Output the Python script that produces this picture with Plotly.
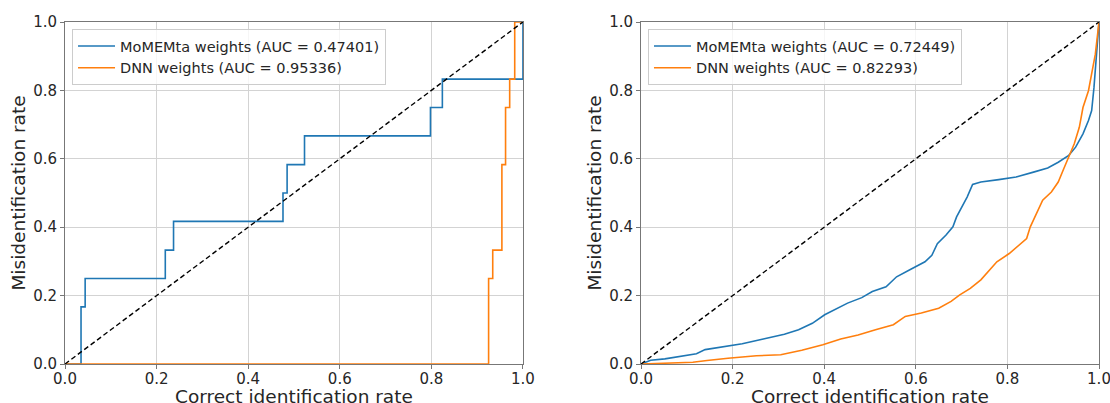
import plotly.graph_objects as go

# ---------------- data ----------------
# Left panel: step ROC curves
left_momemta_x = [0.0, 0.035, 0.044, 0.219, 0.237, 0.476, 0.485, 0.523, 0.798, 0.824, 1.0]
left_momemta_y = [0.0, 0.167, 0.250, 0.333, 0.417, 0.500, 0.583, 0.667, 0.750, 0.833, 1.0]
left_dnn_x = [0.0, 0.925, 0.934, 0.954, 0.962, 0.971, 0.982, 1.0]
left_dnn_y = [0.0, 0.250, 0.333, 0.583, 0.750, 0.833, 1.000, 1.0]

# Right panel: ROC curves
right_momemta_x = [0.0, 0.021, 0.052, 0.083, 0.121, 0.140, 0.183, 0.221, 0.267, 0.313, 0.344,
                   0.374, 0.401, 0.428, 0.451, 0.482, 0.505, 0.535, 0.558, 0.589, 0.620, 0.635,
                   0.647, 0.666, 0.681, 0.689, 0.701, 0.712, 0.724, 0.742, 0.781, 0.819, 0.857,
                   0.888, 0.911, 0.934, 0.949, 0.965, 0.977, 0.984, 0.989, 0.995, 1.0]
right_momemta_y = [0.0, 0.011, 0.015, 0.022, 0.030, 0.042, 0.050, 0.059, 0.073, 0.087, 0.100,
                   0.119, 0.144, 0.163, 0.178, 0.194, 0.212, 0.226, 0.255, 0.277, 0.299, 0.318,
                   0.352, 0.377, 0.401, 0.430, 0.459, 0.488, 0.525, 0.532, 0.539, 0.547, 0.561,
                   0.573, 0.590, 0.610, 0.634, 0.673, 0.712, 0.741, 0.808, 0.925, 1.0]
right_dnn_x = [0.0, 0.052, 0.113, 0.144, 0.190, 0.252, 0.305, 0.351, 0.397, 0.436, 0.474,
               0.512, 0.551, 0.577, 0.612, 0.650, 0.677, 0.696, 0.719, 0.742, 0.758, 0.777,
               0.804, 0.827, 0.842, 0.850, 0.862, 0.877, 0.896, 0.911, 0.923, 0.934, 0.946,
               0.957, 0.965, 0.977, 0.984, 0.992, 1.0]
right_dnn_y = [0.0, 0.003, 0.005, 0.010, 0.017, 0.024, 0.027, 0.040, 0.056, 0.073, 0.085,
               0.100, 0.115, 0.139, 0.149, 0.163, 0.183, 0.202, 0.221, 0.246, 0.270, 0.299,
               0.323, 0.348, 0.367, 0.401, 0.435, 0.479, 0.503, 0.532, 0.571, 0.605, 0.644,
               0.692, 0.750, 0.799, 0.847, 0.906, 1.0]

diag = [0.0, 1.0]
left_names = ["MoMEMta weights (AUC = 0.47401)", "DNN weights (AUC = 0.95336)"]
right_names = ["MoMEMta weights (AUC = 0.72449)", "DNN weights (AUC = 0.82293)"]
x_title = "Correct identification rate"
y_title = "Misidentification rate"

BLUE = "#1f77b4"
ORANGE = "#ff7f0e"
FONT = "DejaVu Sans"
TXT = "#262626"

LEFT_DOM = [0, 0.4429]
RIGHT_DOM = [0.5571, 1]

fig = go.Figure()

# left panel
fig.add_trace(go.Scatter(x=left_momemta_x, y=left_momemta_y, mode="lines", line_shape="hv",
                         line=dict(color=BLUE, width=1.6), name=left_names[0], legend="legend",
                         xaxis="x", yaxis="y"))
fig.add_trace(go.Scatter(x=left_dnn_x, y=left_dnn_y, mode="lines", line_shape="hv",
                         line=dict(color=ORANGE, width=1.6), name=left_names[1], legend="legend",
                         xaxis="x", yaxis="y"))
fig.add_trace(go.Scatter(x=diag, y=diag, mode="lines", line=dict(color="black", width=1.4, dash="5px,3px"),
                         showlegend=False, xaxis="x", yaxis="y"))

# right panel
fig.add_trace(go.Scatter(x=right_momemta_x, y=right_momemta_y, mode="lines",
                         line=dict(color=BLUE, width=1.6), name=right_names[0], legend="legend2",
                         xaxis="x2", yaxis="y2"))
fig.add_trace(go.Scatter(x=right_dnn_x, y=right_dnn_y, mode="lines",
                         line=dict(color=ORANGE, width=1.6), name=right_names[1], legend="legend2",
                         xaxis="x2", yaxis="y2"))
fig.add_trace(go.Scatter(x=diag, y=diag, mode="lines", line=dict(color="black", width=1.4, dash="5px,3px"),
                         showlegend=False, xaxis="x2", yaxis="y2"))

axis_common = dict(range=[0, 1], dtick=0.2, tick0=0, tickformat=".1f", showgrid=True,
                   gridcolor="#d3d3d3", gridwidth=1, zeroline=False, showline=True,
                   linecolor="#777777", linewidth=1, mirror=True, ticks="outside",
                   ticklen=4, tickcolor="#777777", automargin=False,
                   ticklabeloverflow="allow",
                   tickfont=dict(family=FONT, size=15, color=TXT))

title_font = dict(family=FONT, size=18.5, color=TXT)

legend_common = dict(xanchor="left", yanchor="top",
                     bgcolor="rgba(255,255,255,0.8)", bordercolor="#cccccc", borderwidth=1,
                     font=dict(family=FONT, size=14.5, color=TXT), tracegroupgap=0,
                     itemwidth=37)

fig.update_layout(
    width=1110, height=403,
    margin=dict(l=65, r=11, t=22, b=39, autoexpand=False),
    paper_bgcolor="white", plot_bgcolor="white",
    font=dict(family=FONT, color=TXT),
    xaxis=dict(domain=LEFT_DOM, anchor="y", ticklabelstandoff=-3, **axis_common),
    yaxis=dict(domain=[0, 1], anchor="x",
               title=dict(text=y_title, font=title_font, standoff=2), **axis_common),
    xaxis2=dict(domain=RIGHT_DOM, anchor="y2", ticklabelstandoff=-3, **axis_common),
    yaxis2=dict(domain=[0, 1], anchor="x2",
                title=dict(text=y_title, font=title_font, standoff=2), **axis_common),
    legend=dict(x=0.0068, y=0.9795, **legend_common),
    legend2=dict(x=0.5638, y=0.9795, **legend_common),
    showlegend=True,
)

# x-axis titles (placed like the reference, partly below the page edge)
for dom in (LEFT_DOM, RIGHT_DOM):
    fig.add_annotation(text=x_title, xref="paper", yref="paper",
                       x=(dom[0] + dom[1]) / 2, y=0, xanchor="center", yanchor="top",
                       yshift=-21, borderpad=0, showarrow=False, font=title_font)

fig.write_html("out.html", config={"displayModeBar": False},
               post_script="document.body.style.margin='0';document.body.style.overflow='hidden';")
